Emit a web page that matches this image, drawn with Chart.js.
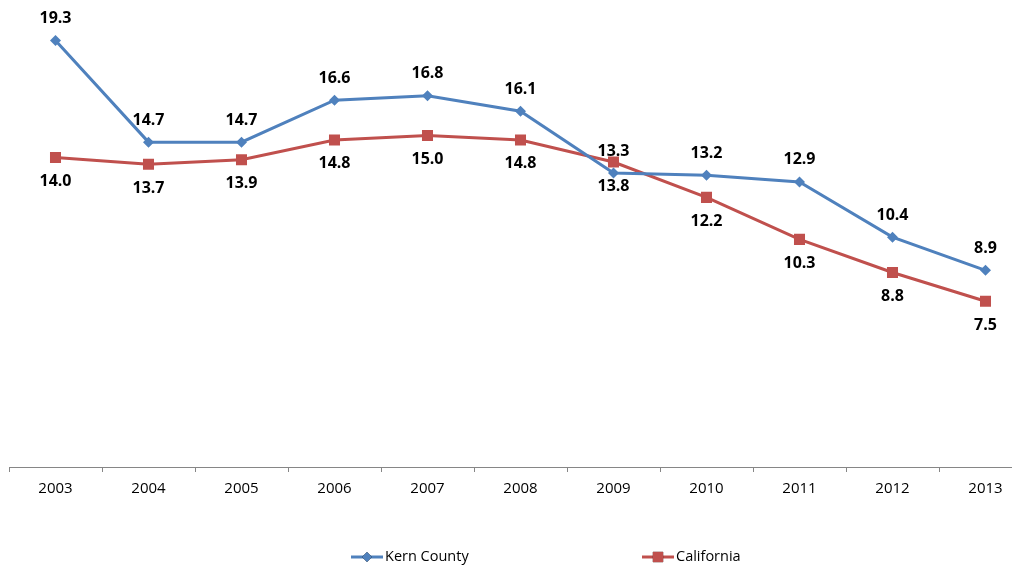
<!DOCTYPE html>
<html>
<head>
<meta charset="utf-8">
<script src="https://cdn.jsdelivr.net/npm/chart.js@4/dist/chart.umd.min.js"></script>
<style>
  html, body { margin: 0; padding: 0; background: #fff; overflow: hidden; }
  #wrap { width: 1012px; height: 565px; overflow: hidden; }
</style>
</head>
<body>
<div id="wrap"><canvas id="lineChart" width="1040" height="565"></canvas></div>
<script>
// values
var years = ['2003', '2004', '2005', '2006', '2007', '2008', '2009', '2010', '2011', '2012', '2013'];
var kernValues = [19.3, 14.7, 14.7, 16.6, 16.8, 16.1, 13.3, 13.2, 12.9, 10.4, 8.9];
var caValues = [14.0, 13.7, 13.9, 14.8, 15.0, 14.8, 13.8, 12.2, 10.3, 8.8, 7.5];
var seriesNames = ['Kern County', 'California'];

var kernColor = '#4F81BD';
var caColor = '#C0504D';

// value labels: first series above the point, second below
var valueLabels = {
    id: 'valueLabels',
    afterDatasetsDraw: function(chart){
        var ctx = chart.ctx;
        ctx.save();
        ctx.font = 'bold 16px "Open Sans"';
        ctx.fillStyle = '#000';
        ctx.textAlign = 'center';
        ctx.textBaseline = 'middle';
        chart.data.datasets.forEach(function(ds, i){
            var meta = chart.getDatasetMeta(i);
            meta.data.forEach(function(pt, j){
                var dy = i === 0 ? -22 : 24;
                ctx.fillText(ds.data[j].toFixed(1), pt.x, pt.y + dy);
            });
        });
        ctx.restore();
    }
};

// legend with line + marker, like the spreadsheet one
var lineLegend = {
    id: 'lineLegend',
    afterDraw: function(chart){
        var ctx = chart.ctx;
        var y = 557;
        var items = [
            {x: 351, ds: chart.data.datasets[0]},
            {x: 642, ds: chart.data.datasets[1]}
        ];
        ctx.save();
        items.forEach(function(it){
            ctx.strokeStyle = it.ds.borderColor;
            ctx.lineWidth = 3;
            ctx.beginPath();
            ctx.moveTo(it.x, y);
            ctx.lineTo(it.x + 32, y);
            ctx.stroke();
            Chart.helpers.drawPoint(ctx, {
                pointStyle: it.ds.pointStyle,
                radius: it.ds.pointRadius - 0.5,
                borderWidth: 0
            }, it.x + 16, y);
            ctx.fillStyle = it.ds.pointBackgroundColor;
            ctx.fill();
            ctx.fillStyle = '#000';
            ctx.font = '14.5px "Open Sans"';
            ctx.textAlign = 'left';
            ctx.textBaseline = 'middle';
            ctx.fillText(it.ds.label, it.x + 34, y);
        });
        ctx.restore();
    }
};

var ctx = document.getElementById('lineChart').getContext('2d');
var lineChart = new Chart(ctx, {
    type: 'line',
    data: {
        labels: years,
        datasets: [{
            label: seriesNames[0],
            data: kernValues,
            borderColor: kernColor,
            backgroundColor: kernColor,
            pointBackgroundColor: kernColor,
            pointBorderColor: kernColor,
            pointStyle: 'rectRot',
            pointRadius: 5.5,
            pointBorderWidth: 0,
            borderWidth: 3,
            tension: 0
        }, {
            label: seriesNames[1],
            data: caValues,
            borderColor: caColor,
            backgroundColor: caColor,
            pointBackgroundColor: caColor,
            pointBorderColor: caColor,
            pointStyle: 'rect',
            pointRadius: 7.8,
            pointBorderWidth: 0,
            borderWidth: 3,
            tension: 0
        }]
    },
    options: {
        responsive: false,
        animation: false,
        layout: { padding: { left: 9, right: 8, top: 25, bottom: 59 } },
        plugins: {
            legend: { display: false },
            tooltip: { enabled: false }
        },
        scales: {
            x: {
                offset: true,
                grid: {
                    display: true,
                    offset: true,
                    drawOnChartArea: false,
                    tickLength: 5,
                    color: '#868686'
                },
                border: { color: '#868686', width: 1 },
                ticks: {
                    color: '#000',
                    padding: 8,
                    font: { family: 'Open Sans', size: 15 }
                }
            },
            y: {
                display: false,
                min: 0,
                max: 20
            }
        }
    },
    plugins: [valueLabels, lineLegend]
});
</script>
</body>
</html>
